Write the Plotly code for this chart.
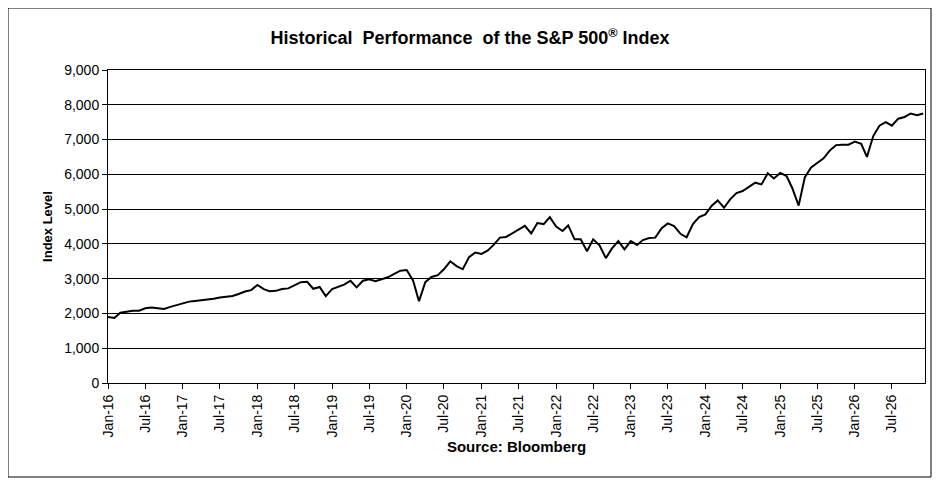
import plotly.graph_objects as go

months = [f"{y}-{m:02d}-01" for y in range(2016, 2027) for m in range(1, 13)]
values = [
 1900,1870,2020,2060,2080,2080,2150,2170,2160,2130,2190,2240,
 2270,2340,2360,2380,2410,2420,2460,2470,2500,2560,2630,2670,
 2820,2700,2640,2650,2700,2720,2810,2900,2910,2710,2760,2500,
 2700,2780,2830,2940,2750,2940,2980,2930,2980,3040,3140,3230,
 3250,2950,2350,2900,3050,3100,3270,3500,3360,3270,3620,3750,
 3710,3810,3970,4180,4200,4300,4400,4520,4300,4600,4570,4770,
 4500,4370,4530,4130,4130,3790,4130,3960,3590,3870,4080,3840,
 4080,3970,4110,4170,4180,4450,4590,4510,4290,4190,4570,4770,
 4850,5100,5250,5040,5280,5460,5520,5650,5760,5710,6030,5880,
 6040,5950,5600,5100,5910,6200,6340,6460,6690,6840,6850,6850,
 6940,6880,6500,7100,7400,7500,7400,7600,7650,7750,7700,7750,
]

fig = go.Figure(go.Scatter(x=months, y=values, mode="lines",
                           line=dict(color="black", width=2), showlegend=False))

font = "Liberation Sans, Arial, sans-serif"
fig.update_layout(
    width=924, height=470, paper_bgcolor="white", plot_bgcolor="white",
    margin=dict(l=100, r=7, t=62, b=95),
    font=dict(family=font, size=14, color="black"),
    title=dict(text="<b>Historical  Performance  of the S&P 500<sup>®</sup> Index</b>",
               x=0.5, y=0.95, xanchor="center", font=dict(size=18)),
    shapes=[dict(type="rect", xref="paper", yref="paper",
                 x0=-100/817, x1=823/817, y0=(375-469)/313, y1=375/313,
                 line=dict(color="black", width=1))],
)
fig.update_xaxes(type="date", range=["2016-01-01", "2026-12-10"],
                 dtick="M6", tick0="2016-01-01", tickformat="%b-%y", tickangle=-90,
                 showgrid=False, showline=True, linecolor="black", mirror=True,
                 ticks="outside", ticklen=5, tickcolor="black",
                 title=dict(text="<b>Source: Bloomberg</b>", font=dict(size=15), standoff=5))
fig.update_yaxes(range=[0, 9000], dtick=1000, tickformat=",",
                 showgrid=True, gridcolor="black", gridwidth=1,
                 showline=True, linecolor="black", mirror=True,
                 ticks="outside", ticklen=5, tickcolor="black",
                 title=dict(text="<b>Index Level</b>", font=dict(size=13), standoff=8))
fig.write_html("out.html")
